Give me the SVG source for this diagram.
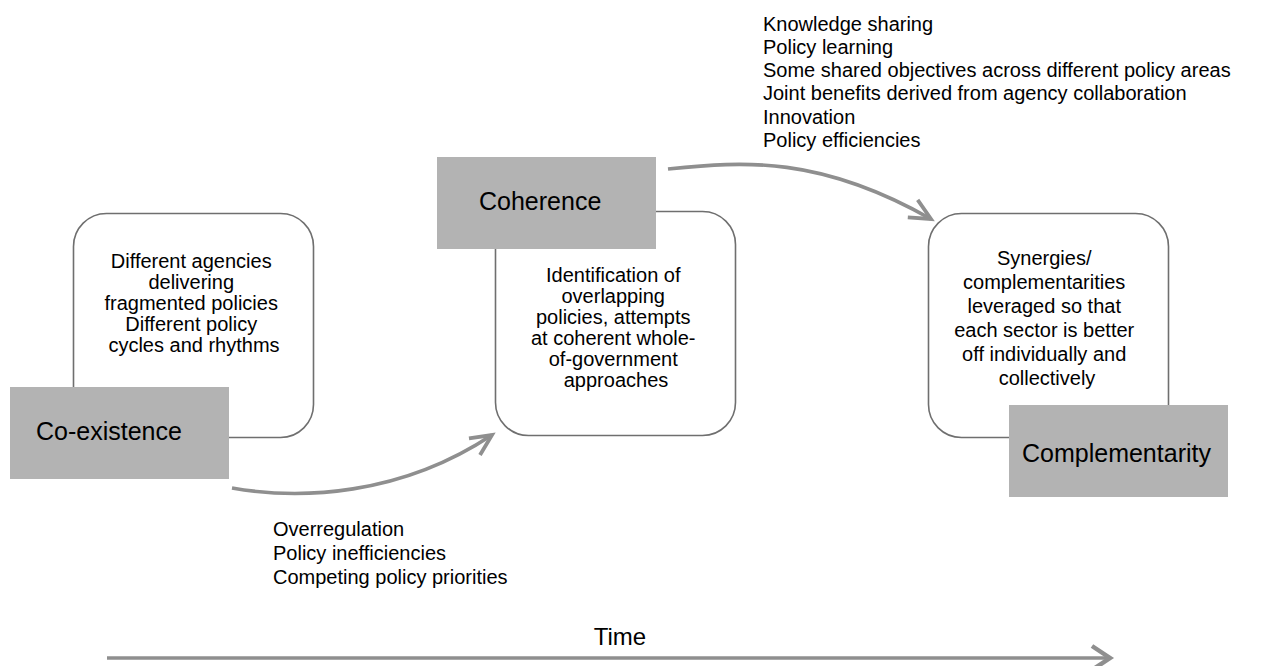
<svg xmlns="http://www.w3.org/2000/svg" width="1273" height="666" viewBox="0 0 1273 666">
<defs>
<style>
.box{fill:#fff;stroke:#6f6f6f;stroke-width:1.6}
.tag{fill:#b3b3b3}
.t{font-family:"Liberation Sans",Arial,sans-serif;font-size:20px;fill:#000}
.tc{text-anchor:middle}
.lab{font-family:"Liberation Sans",Arial,sans-serif;font-size:25px;fill:#000}
.con{fill:none;stroke:#8f8f8f;stroke-width:3.6}
.time{font-family:"Liberation Sans",Arial,sans-serif;font-size:24px;fill:#000}
</style>
<marker id="chev" markerUnits="userSpaceOnUse" markerWidth="40" markerHeight="40" viewBox="-30 -20 40 40" refX="0" refY="0" orient="auto">
<path d="M-21,-10 L0,0 L-21,10" fill="none" stroke="#8f8f8f" stroke-width="3.8"/>
</marker>
<marker id="chevT" markerUnits="userSpaceOnUse" markerWidth="40" markerHeight="40" viewBox="-30 -20 40 40" refX="0" refY="0" orient="auto">
<path d="M-18,-12 L0,0 L-18,12" fill="none" stroke="#8f8f8f" stroke-width="4.5"/>
</marker>
</defs>
<rect width="1273" height="666" fill="#fff"/>

<g id="coexistence">
<rect class="box" x="73.5" y="213.5" width="240" height="224" rx="33"/>
<text class="t tc" x="194">
<tspan x="194" y="268">Different agencies</tspan>
<tspan x="194" y="289">delivering</tspan>
<tspan x="194" y="310">fragmented policies</tspan>
<tspan x="194" y="331">Different policy</tspan>
<tspan x="194" y="352">cycles and rhythms</tspan>
</text>
<rect class="tag" x="10" y="387" width="219" height="92"/>
<text class="lab" x="36" y="440">Co-existence</text>
</g>

<g id="coherence">
<rect class="box" x="495.5" y="211.5" width="240" height="224" rx="33"/>
<text class="t tc" x="616">
<tspan x="616" y="282">Identification of</tspan>
<tspan x="616" y="303">overlapping</tspan>
<tspan x="616" y="324">policies, attempts</tspan>
<tspan x="616" y="345">at coherent whole-</tspan>
<tspan x="616" y="366">of-government</tspan>
<tspan x="616" y="387">approaches</tspan>
</text>
<rect class="tag" x="437" y="157" width="219" height="92"/>
<text class="lab" x="479" y="210">Coherence</text>
</g>

<g id="complementarity">
<rect class="box" x="928.5" y="213.5" width="240" height="224" rx="33"/>
<text class="t tc" x="1047">
<tspan x="1047" y="265">Synergies/</tspan>
<tspan x="1047" y="289">complementarities</tspan>
<tspan x="1047" y="313">leveraged so that</tspan>
<tspan x="1047" y="337">each sector is better</tspan>
<tspan x="1047" y="361">off individually and</tspan>
<tspan x="1047" y="385">collectively</tspan>
</text>
<rect class="tag" x="1009" y="405" width="219" height="92"/>
<text class="lab" x="1022" y="462">Complementarity</text>
</g>

<g id="connectors">
<path class="con" d="M232,488 C300,500 400,496 492,435" marker-end="url(#chev)"/>
<path class="con" d="M668,169 C745,161 820,156 931,219" marker-end="url(#chev)"/>
<path class="con" d="M107,658 L1110,658" stroke-width="5" marker-end="url(#chevT)"/>
</g>

<g id="labels">
<text class="t" x="273">
<tspan x="273" y="536">Overregulation</tspan>
<tspan x="273" y="560">Policy inefficiencies</tspan>
<tspan x="273" y="584">Competing policy priorities</tspan>
</text>
<text class="t" x="763">
<tspan x="763" y="31">Knowledge sharing</tspan>
<tspan x="763" y="54">Policy learning</tspan>
<tspan x="763" y="77">Some shared objectives across different policy areas</tspan>
<tspan x="763" y="100">Joint benefits derived from agency collaboration</tspan>
<tspan x="763" y="124">Innovation</tspan>
<tspan x="763" y="147">Policy efficiencies</tspan>
</text>
<text class="time" x="620" y="645" text-anchor="middle">Time</text>
</g>
</svg>
